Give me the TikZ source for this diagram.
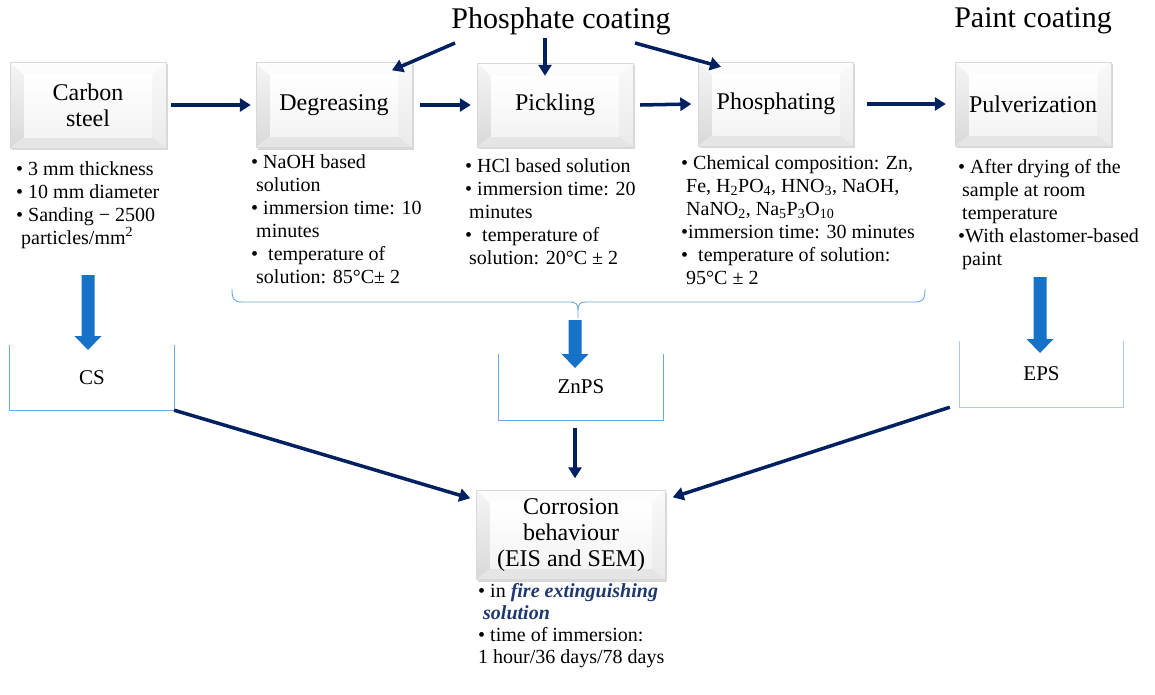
\documentclass[tikz,border=0pt]{standalone}
\usepackage{fontspec}
\setmainfont{Liberation Serif}
\usetikzlibrary{arrows.meta,shadows}
\definecolor{navy}{RGB}{0,32,96}
\definecolor{blk}{RGB}{22,114,200}
\definecolor{lblue}{RGB}{110,168,222}
\definecolor{lbluetwo}{RGB}{170,204,236}
\definecolor{fireblue}{RGB}{31,56,110}
\newcommand\blkarrow[2]{%
  \fill[blk] ([xshift=-6.5pt]#1) -- ([xshift=6.5pt]#1) -- ([xshift=6.5pt,yshift=14pt]#2)
    -- ([xshift=13.5pt,yshift=14pt]#2) -- (#2) -- ([xshift=-13.5pt,yshift=14pt]#2)
    -- ([xshift=-6.5pt,yshift=14pt]#2) -- cycle;}
\tikzset{
  bevelbox/.style={draw=gray!30, line width=0.4pt, fill=gray!4,
    drop shadow={shadow xshift=1.5pt,shadow yshift=-2pt,opacity=0.3},
    align=center, font=\fontsize{24}{26}\selectfont, inner sep=0pt,
    path picture={
      \coordinate (pA) at (path picture bounding box.south west);
      \coordinate (pB) at (path picture bounding box.north west);
      \coordinate (pC) at (path picture bounding box.north east);
      \coordinate (pD) at (path picture bounding box.south east);
      \shade[top color=gray!8,bottom color=gray!30] (pA) -- (pB) -- ([xshift=14pt,yshift=-13pt]pB) -- ([xshift=14pt,yshift=11pt]pA) -- cycle;
      \fill[gray!2] (pB) -- (pC) -- ([xshift=-14pt,yshift=-13pt]pC) -- ([xshift=14pt,yshift=-13pt]pB) -- cycle;
      \shade[top color=gray!5,bottom color=gray!16] (pC) -- (pD) -- ([xshift=-14pt,yshift=11pt]pD) -- ([xshift=-14pt,yshift=-13pt]pC) -- cycle;
      \fill[gray!20] (pA) -- (pD) -- ([xshift=-14pt,yshift=11pt]pD) -- ([xshift=14pt,yshift=11pt]pA) -- cycle;
      \shade[top color=white,bottom color=gray!9] ([xshift=14pt,yshift=11pt]pA) rectangle ([xshift=-14pt,yshift=-13pt]pC);
    }},
  bul/.style={font=\fontsize{20}{23}\selectfont, align=left, inner sep=0pt, anchor=north west},
  titlet/.style={font=\fontsize{30}{32}\selectfont, inner sep=0pt},
  navyarrow/.style={navy, line width=3.5pt, -{Triangle[length=11pt,width=13pt]}},
  bracket/.style={lblue, line width=0.9pt},
  slot/.style={minimum width=164pt, minimum height=65pt, inner sep=0pt, font=\fontsize{21}{23}\selectfont},
}
\begin{document}
\begin{tikzpicture}[x=1pt,y=-1pt]
\useasboundingbox (0,0) rectangle (1155,694);
\fill[white] (0,0) rectangle (1155,694);

% titles
\node[titlet] (pc) at (561,21) {Phosphate coating};
\node[titlet] (paint) at (1033,21) {Paint coating};

% step boxes
\node[bevelbox, minimum width=156pt, minimum height=86pt] (carbon) at (88,105) {Carbon\\steel};
\node[bevelbox, minimum width=156pt, minimum height=85pt] (degr) at (334,105) {Degreasing};
\node[bevelbox, minimum width=156pt, minimum height=84pt] (pick) at (555,105) {Pickling};
\node[bevelbox, minimum width=155pt, minimum height=84pt] (phos) at (776,104) {Phosphating};
\node[bevelbox, minimum width=156pt, minimum height=84pt] (pulv) at (1033,104) {Pulverization};
\node[bevelbox, minimum width=189pt, minimum height=89pt] (corr) at (571,535) {Corrosion\\behaviour\\(EIS and SEM)};

% horizontal arrows
\draw[navyarrow] ([xshift=5pt]carbon.east) -- ([xshift=-5pt]degr.west);
\draw[navyarrow] ([xshift=8pt]degr.east) -- ([xshift=-6pt]pick.west);
\draw[navyarrow] ([xshift=7pt]pick.east) -- ([xshift=-7pt]phos.west);
\draw[navyarrow] ([xshift=13pt]phos.east) -- ([xshift=-9pt]pulv.west);

% phosphate coating arrows
\coordinate (pcL) at (455,43);
\coordinate (pcM) at (545,38);
\coordinate (pcR) at (635,43);
\draw[navyarrow] (pcL) -- ([xshift=58pt,yshift=-8pt]degr.north);
\draw[navyarrow] (pcM) -- ([xshift=-10pt,yshift=-13pt]pick.north);
\draw[navyarrow] (pcR) -- ([xshift=-55pt,yshift=-5pt]phos.north);

% bullet texts
\node[bul] (csT) at (16,161) {\textbullet\ 3 mm thickness\\ \textbullet\ 10 mm diameter\\ \textbullet\ Sanding \textminus\ 2500\\ \hspace*{5pt}particles/mm\textsuperscript{2}};
\node[bul] (degT) at (251,154) {\textbullet\ NaOH based\\ \hspace*{5pt}solution\\ \textbullet\ immersion time: 10\\ \hspace*{5pt}minutes\\ \textbullet\ \ temperature of\\ \hspace*{5pt}solution: 85\textdegree C\textpm\ 2};
\node[bul] (pickT) at (465,158) {\textbullet\ HCl based solution\\ \textbullet\ immersion time: 20\\ \hspace*{4pt}minutes\\ \textbullet\ \ temperature of\\ \hspace*{4pt}solution: 20\textdegree C \textpm\ 2};
\node[bul] (phosT) at (681,155) {\textbullet\ Chemical composition: Zn,\\ \hspace*{5pt}Fe, H\textsubscript{2}PO\textsubscript{4}, HNO\textsubscript{3}, NaOH,\\ \hspace*{5pt}NaNO\textsubscript{2}, Na\textsubscript{5}P\textsubscript{3}O\textsubscript{10}\\ \textbullet immersion time: 30 minutes\\ \textbullet\ \ temperature of solution:\\ \hspace*{5pt}95\textdegree C \textpm\ 2};
\node[bul] (pulvT) at (958,159) {\textbullet\ After drying of the\\ \hspace*{4pt}sample at room\\ \hspace*{4pt}temperature\\ \textbullet With elastomer-based\\ \hspace*{4pt}paint};
\node[bul, font=\fontsize{20}{22}\selectfont] (corrT) at (478,583) {\textbullet\ in \textcolor{fireblue}{\bfseries\itshape fire extinguishing}\\ \hspace*{5pt}\textcolor{fireblue}{\bfseries\itshape solution}\\ \textbullet\ time of immersion:\\ 1 hour/36 days/78 days};

% brace under the three phosphate steps
\draw[bracket] (232,289) .. controls (232,299) and (234,302) .. (242,302) -- (570,302)
  .. controls (576,302) and (578,304) .. (578,310) -- (578,318);
\draw[bracket] (578,310) .. controls (578,304) and (580,302) .. (586,302) -- (915,302)
  .. controls (923,302) and (925,299) .. (925,289);

% result slots
\node[slot] (cs) at (92,377.5) {CS};
\node[slot, minimum height=66pt] (znps) at (581,387) {\raisebox{-4pt}{ZnPS}};
\node[slot, minimum width=163pt, minimum height=66pt] (eps) at (1041.5,374) {EPS};
\draw[bracket] (cs.north west) |- (cs.south east) -- (cs.north east);
\draw[bracket] (znps.north west) |- (znps.south east) -- (znps.north east);
\draw[bracket, lbluetwo] (eps.north west) |- (eps.south east) -- (eps.north east);

% block arrows
\coordinate (csA) at (88,275);
\coordinate (csB) at (88,350);
\coordinate (znA) at (575,320);
\coordinate (znB) at (575,368);
\coordinate (epA) at (1040,277);
\coordinate (epB) at (1040,353);
\blkarrow{csA}{csB}
\blkarrow{znA}{znB}
\blkarrow{epA}{epB}

% arrows to corrosion box
\draw[navyarrow] (cs.south east) -- ([xshift=-6pt,yshift=-8pt]corr.north west);
\draw[navyarrow] ([xshift=-6pt,yshift=-8pt]znps.south) -- ([xshift=4pt,yshift=12pt]corr.north);
\draw[navyarrow] ([xshift=-10pt]eps.south west) -- ([xshift=7pt,yshift=-7pt]corr.north east);
\end{tikzpicture}
\end{document}
